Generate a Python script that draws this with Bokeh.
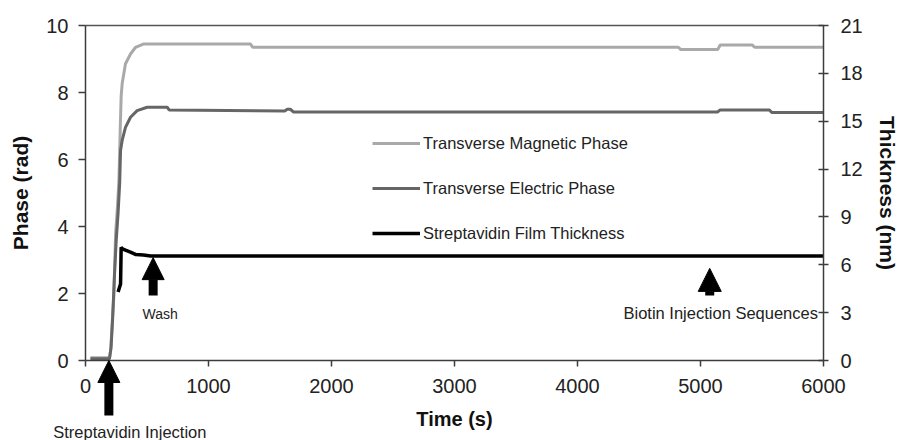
from bokeh.plotting import figure
from bokeh.models import (Range1d, LinearAxis, FixedTicker, Legend, LegendItem,
                          Arrow, NormalHead, Label)
from bokeh.embed import file_html
from bokeh.resources import INLINE

# Transverse magnetic phase (rad) vs time (s)
tm_time = [40, 195, 205, 215, 230, 245, 260, 272, 283, 290, 298, 325, 366, 407,
           474, 1340, 1360, 4820, 4840, 5140, 5160, 5420, 5440, 6000]
tm_phase = [0.08, 0.08, 0.3, 1.0, 1.9, 3.8, 4.6, 5.4, 7.0, 7.9, 8.26, 8.86, 9.15, 9.35,
            9.45, 9.45, 9.35, 9.35, 9.28, 9.28, 9.42, 9.42, 9.35, 9.35]

# Transverse electric phase (rad) vs time (s)
te_time = [40, 195, 208, 220, 235, 250, 265, 278, 285, 298, 325, 366, 420, 501,
           664, 680, 1620, 1640, 1665, 1690, 5140, 5160, 5560, 5580, 6000]
te_phase = [0.05, 0.05, 0.4, 1.2, 2.5, 3.6, 4.4, 5.3, 6.27, 6.57, 6.96, 7.26, 7.46, 7.56,
            7.56, 7.48, 7.45, 7.5, 7.5, 7.42, 7.42, 7.48, 7.48, 7.4, 7.4]

# Streptavidin film thickness (nm) vs time (s)
film_time = [265, 285, 290, 300, 330, 370, 410, 470, 530, 6000]
film_nm = [4.3, 4.8, 7.1, 7.0, 6.9, 6.78, 6.64, 6.62, 6.55, 6.55]

x_ticks = [0, 1000, 2000, 3000, 4000, 5000, 6000]
phase_ticks = [0, 2, 4, 6, 8, 10]
thick_ticks = [0, 3, 6, 9, 12, 15, 18, 21]

# Event markers: time of each event, arrow tail/tip (rad) and caption
event_time = [190, 550, 5075]
event_tail = [-1.64, 1.94, 1.94]
event_tip = [0.0, 3.07, 2.75]
event_text = ["Streptavidin Injection", "Wash", "Biotin Injection Sequences"]

FONT = "Liberation Sans"
AXIS_COLOR = "#3c3c3c"

# The plotting frame covers the whole canvas; the axes are pinned to the data
# box (0..6000 s, 0..10 rad) so that the annotations below the time axis and
# the axis labels all live inside the frame.
W, H = 898, 440
PX_PER_S = 0.123
PX_PER_RAD = 33.5
LEFT, RIGHT, TOP, BOTTOM = 85, 75, 25, 80
x_lo = -LEFT / PX_PER_S
x_hi = 6000 + RIGHT / PX_PER_S
phase_lo = -BOTTOM / PX_PER_RAD
phase_hi = 10 + TOP / PX_PER_RAD
NM_PER_RAD = 21 / 10

p = figure(width=W, height=H, x_range=Range1d(x_lo, x_hi),
           y_range=Range1d(phase_lo, phase_hi),
           x_axis_location=None, y_axis_location=None,
           output_backend="svg", toolbar_location=None,
           min_border=0, min_border_left=0, min_border_right=0,
           min_border_top=0, min_border_bottom=0)
p.extra_y_ranges = {"thick": Range1d(phase_lo * NM_PER_RAD, phase_hi * NM_PER_RAD)}
p.grid.visible = False
p.outline_line_color = None
p.background_fill_color = "white"

r_tm = p.line(tm_time, tm_phase, color="#a9a9a9", line_width=3)
r_te = p.line(te_time, te_phase, color="#666666", line_width=3)
r_film = p.line(film_time, film_nm, y_range_name="thick", color="black", line_width=3.5)


def style_axis(ax, title_size="20px"):
    ax.axis_line_color = AXIS_COLOR
    ax.axis_line_width = 1.5
    ax.major_tick_line_color = AXIS_COLOR
    ax.major_tick_line_width = 1.5
    ax.minor_tick_line_color = None
    ax.major_label_text_font = FONT
    ax.major_label_text_font_size = "20px"
    ax.major_label_text_color = "#222222"
    ax.axis_label_text_font = FONT
    ax.axis_label_text_font_size = title_size
    ax.axis_label_text_font_style = "bold"
    ax.axis_label_text_color = "#111111"


# time axis along phase 0
xaxis = LinearAxis(fixed_location=0, bounds=(0, 6000),
                   ticker=FixedTicker(ticks=x_ticks), axis_label="Time (s)")
style_axis(xaxis)
xaxis.major_tick_in = 0
xaxis.major_tick_out = 6
xaxis.major_label_standoff = 12
xaxis.axis_label_standoff = 12
p.add_layout(xaxis, "below")

# plain border line along the top of the data box
top_line = LinearAxis(fixed_location=10, bounds=(0, 6000), ticker=FixedTicker(ticks=[]))
top_line.axis_line_color = "#555555"
top_line.axis_line_width = 1.5
top_line.major_tick_line_color = None
top_line.minor_tick_line_color = None
top_line.major_label_text_color = None
p.add_layout(top_line, "above")

# phase axis along t = 0
yaxis = LinearAxis(fixed_location=0, bounds=(0, 10),
                   ticker=FixedTicker(ticks=phase_ticks), axis_label="Phase (rad)")
style_axis(yaxis, "21px")
yaxis.major_tick_in = 0
yaxis.major_tick_out = 7
yaxis.major_label_standoff = 10
yaxis.axis_label_standoff = 11
p.add_layout(yaxis, "left")

# thickness axis along t = 6000
right = LinearAxis(fixed_location=6000, y_range_name="thick", bounds=(0, 21),
                   ticker=FixedTicker(ticks=thick_ticks), axis_label="Thickness (nm)")
style_axis(right, "21px")
right.major_tick_in = 5
right.major_tick_out = 5
right.major_label_standoff = 12
right.axis_label_standoff = 10
p.add_layout(right, "right")

# legend
legend = Legend(items=[LegendItem(label="Transverse Magnetic Phase", renderers=[r_tm]),
                       LegendItem(label="Transverse Electric Phase", renderers=[r_te]),
                       LegendItem(label="Streptavidin Film Thickness", renderers=[r_film])],
                location=(372, 197), background_fill_alpha=0, border_line_color=None,
                glyph_width=48, glyph_height=20, label_height=20, spacing=25,
                padding=0, margin=0, label_standoff=3,
                label_text_font=FONT, label_text_font_size="16.5px",
                label_text_color="#222222")
p.add_layout(legend)

# event arrows and captions
head_sizes = [22, 22, 23]
for t, y0, y1, hs in zip(event_time, event_tail, event_tip, head_sizes):
    p.add_layout(Arrow(end=NormalHead(size=hs, fill_color="black", line_color="black"),
                       x_start=t, y_start=y0, x_end=t, y_end=y1,
                       line_color="black", line_width=9))

captions = [
    dict(y=-2.12, x_offset=21, size="16.5px"),
    dict(y=1.40, x_offset=7, size="14px"),
    dict(y=1.43, x_offset=11, size="16.5px"),
]
for t, txt, c in zip(event_time, event_text, captions):
    p.add_layout(Label(x=t, y=c["y"], x_offset=c["x_offset"], text=txt,
                       text_align="center", text_baseline="middle",
                       text_font=FONT, text_font_size=c["size"], text_color="#222222"))

open("out.html", "w").write(file_html(p, INLINE))
